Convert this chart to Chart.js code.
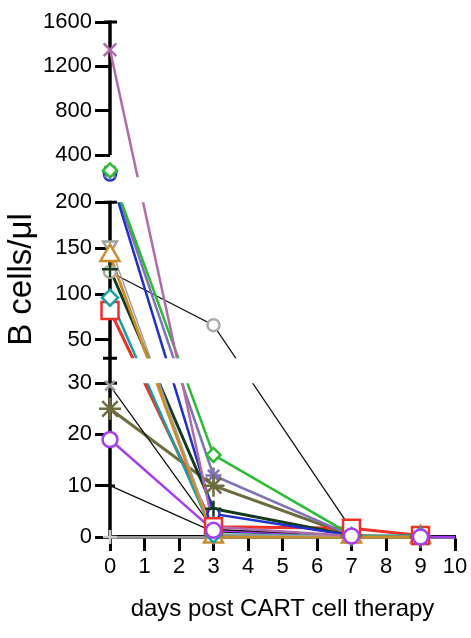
<!DOCTYPE html>
<html>
<head>
<meta charset="utf-8">
<script src="https://cdn.jsdelivr.net/npm/chart.js@4.4.1/dist/chart.umd.min.js"></script>
<style>
  html, body { margin: 0; padding: 0; background: #fff; }
  #wrap { width: 471px; height: 638px; }
</style>
</head>
<body>
<div id="wrap"><canvas id="bcellChart"></canvas></div>
<script>
// days after CART infusion
const days = [0, 3, 7, 9, 10];

// B cells / ul per patient (null = not measured)
const mauveCross   = [1350, 2, 0.2, null, null];
const blueRing     = [225, 4.5, 0.3, null, null];
const greenDiamond = [262, 16, 0.4, null, null];
const lavenderStar = [250, 12, 0.3, null, null];
const grayTriangle = [153, 0.5, 0.2, null, null];
const orangeTri    = [142, 0, 0, 0, null];
const darkGreen    = [127, 5.5, 0.3, null, null];
const grayCircle   = [124, 66, 1.5, null, null];
const tealDiamond  = [96, 0.5, 0.2, 0.3, null];
const redSquare    = [82, 2, 1.7, 0.3, null];
const grayCross    = [29.5, 1.5, 0.2, null, null];
const oliveStar    = [25, 10, 0.3, 0, null];
const violetCircle = [19, 1.3, 0.2, 0, 0];
const blackDash    = [10, 1, 0.2, null, null];
const lightGray    = [0, 0, 0, null, null];

// broken y axis: segment limits and tick labels
const yBreaks = [0, 30, 200, 1600];
const yTickValues = [0, 10, 20, 30, 50, 100, 150, 200, 400, 800, 1200, 1600];
const xTickValues = [0, 1, 2, 3, 4, 5, 6, 7, 8, 9, 10];

const FONT = "'Liberation Sans', Arial, sans-serif";

// relative heights of the three segments and the gaps between them
const segWeights = [154, 156, 155.5];
const gapWeight = 25;
const totalWeight = segWeights.reduce((a, b) => a + b, 0) + gapWeight * (segWeights.length - 1);

const LinearBase = Chart.LinearScale || Chart.registry.getScale("linear");

class BrokenLinearScale extends LinearBase {
  segDecimals(i) {
    let start = 0;
    for (let k = 0; k < i; k++) start += segWeights[k] + gapWeight;
    return [start / totalWeight, (start + segWeights[i]) / totalWeight];
  }
  getDecimalForValue(v) {
    const last = yBreaks.length - 2;
    for (let i = 0; i <= last; i++) {
      if (v <= yBreaks[i + 1] || i === last) {
        const [d0, d1] = this.segDecimals(i);
        return d0 + ((v - yBreaks[i]) / (yBreaks[i + 1] - yBreaks[i])) * (d1 - d0);
      }
    }
  }
  getPixelForValue(v) {
    if (v === null || v === undefined || isNaN(v)) return NaN;
    return this.getPixelForDecimal(this.getDecimalForValue(v));
  }
  getValueForPixel(p) {
    const d = this.getDecimalForPixel(p);
    const last = yBreaks.length - 2;
    for (let i = 0; i <= last; i++) {
      const [d0, d1] = this.segDecimals(i);
      if (d <= d1 || i === last) {
        return yBreaks[i] + ((d - d0) / (d1 - d0)) * (yBreaks[i + 1] - yBreaks[i]);
      }
    }
  }
  segPixels(i) {
    const [d0, d1] = this.segDecimals(i);
    return [this.getPixelForDecimal(d0), this.getPixelForDecimal(d1)];
  }
}
BrokenLinearScale.id = "brokenLinear";
BrokenLinearScale.defaults = LinearBase.defaults;
Chart.register(BrokenLinearScale);

// z: marker stacking, lower is drawn on top
const series = [
  { values: mauveCross,   color: "#b16ca8", marker: "crossRot", r: 9, lw: 2.5, z: 9 },
  { values: blueRing,     color: "#2130c8", marker: "circle",   r: 6, lw: 2.5, z: 8 },
  { values: greenDiamond, color: "#2cbb35", marker: "rectRot",  r: 7, lw: 2.5, z: 5 },
  { values: lavenderStar, color: "#7f72b6", marker: "star",     r: 8, lw: 2.5, z: 6 },
  { values: grayTriangle, color: "#a0a0a0", marker: "triangle", r: 8, lw: 1.5, z: 14, rot: 180 },
  { values: orangeTri,    color: "#c98d2a", marker: "triangle", r: 11, lw: 3, z: 3 },
  { values: darkGreen,    color: "#14391b", marker: "cross",    r: 8, lw: 3, z: 7 },
  { values: grayCircle,   color: "#aaaaaa", line: "#111111", marker: "circle", r: 6, lw: 1.3, z: 10 },
  { values: tealDiamond,  color: "#1a9ea3", marker: "rectRot",  r: 8, lw: 2.5, z: 1 },
  { values: redSquare,    color: "#ea3229", marker: "rect",     r: 12, lw: 3, z: 2 },
  { values: grayCross,    color: "#9a9a9a", line: "#111111", marker: "crossRot", r: 7, lw: 1.3, z: 12 },
  { values: oliveStar,    color: "#6d6c40", marker: "star",     r: 11, lw: 3, z: 4 },
  { values: violetCircle, color: "#a43ef0", marker: "circle",   r: 7.5, lw: 2.5, z: 0 },
  { values: blackDash,    color: "#111111", marker: "dash",     r: 5, lw: 1.3, z: 11 },
  { values: lightGray,    color: "#cccccc", marker: "cross",    r: 7, lw: 1.5, z: 13 },
];

function toPoints(values) {
  return days
    .map((d, i) => ({ x: d, y: values[i] }))
    .filter((p) => p.y !== null);
}

const datasets = [];
series.forEach((s) => {
  // line part, clipped to the three axis segments
  datasets.push({
    data: toPoints(s.values),
    showLine: true,
    borderColor: s.line || s.color,
    borderWidth: s.lw,
    pointRadius: 0,
    fill: false,
    clip: false,
    order: 2,
    lineOnly: true,
  });
  // markers, drawn on top and never clipped
  datasets.push({
    data: toPoints(s.values),
    showLine: false,
    pointStyle: s.marker,
    pointRotation: s.rot || 0,
    pointRadius: (ctx) => (ctx.raw && ctx.raw.x === 10 ? 0 : s.r),
    pointBorderColor: s.color,
    pointBackgroundColor: "#ffffff",
    pointBorderWidth: 2.5,
    clip: false,
    order: 1 + s.z / 100,
  });
});

// draws the broken y axis and hides lines inside the gaps
const brokenAxisPlugin = {
  id: "brokenAxis",
  beforeDatasetsDraw(chart) {
    const y = chart.scales.y;
    const ctx = chart.ctx;
    const x0 = chart.chartArea.left;
    const axisFrom = [0, 30, 400];
    ctx.save();
    ctx.strokeStyle = "#000";
    ctx.lineCap = "butt";
    for (let i = 0; i < segWeights.length; i++) {
      const [bottom, top] = y.segPixels(i);
      const start = i === 0 ? bottom + 1.75 : y.getPixelForValue(axisFrom[i]);
      ctx.lineWidth = 3.5;
      ctx.beginPath();
      ctx.moveTo(x0, start);
      ctx.lineTo(x0, top - 1.5);
      ctx.stroke();
      ctx.lineWidth = 3;
      ctx.beginPath();
      ctx.moveTo(x0 - 6, top);
      ctx.lineTo(x0 + 7, top);
      if (i > 0 && axisFrom[i] === yBreaks[i]) {
        ctx.moveTo(x0 - 7, bottom);
        ctx.lineTo(x0 + 7, bottom);
      }
      ctx.stroke();
    }
    ctx.restore();
  },
  beforeDatasetDraw(chart, args) {
    const ds = chart.data.datasets[args.index];
    if (!ds.lineOnly) return;
    const y = chart.scales.y;
    const area = chart.chartArea;
    const ctx = chart.ctx;
    ctx.save();
    ctx.beginPath();
    for (let i = 0; i < segWeights.length; i++) {
      let [bottom, top] = y.segPixels(i);
      if (i === 0) bottom += 6;
      if (i === segWeights.length - 1) top -= 6;
      ctx.rect(area.left - 12, top, area.right - area.left + 24, bottom - top);
    }
    ctx.clip();
  },
  afterDatasetDraw(chart, args) {
    const ds = chart.data.datasets[args.index];
    if (ds.lineOnly) chart.ctx.restore();
  },
};

const ctx = document.getElementById("bcellChart").getContext("2d");
new Chart(ctx, {
  type: "line",
  data: { datasets: datasets },
  plugins: [brokenAxisPlugin],
  options: {
    responsive: true,
    maintainAspectRatio: false,
    animation: false,
    layout: { padding: { top: 22, right: 16, left: 0, bottom: 0 } },
    plugins: { legend: { display: false }, tooltip: { enabled: false } },
    scales: {
      x: {
        type: "linear",
        min: 0,
        max: 10,
        afterBuildTicks: (s) => { s.ticks = xTickValues.map((v) => ({ value: v })); },
        afterFit: (s) => { s.height = 101; },
        ticks: { color: "#000", font: { family: FONT, size: 22 }, padding: 3, maxRotation: 0 },
        grid: { drawOnChartArea: false, drawTicks: true, tickLength: 14, tickWidth: 3, color: "#000" },
        border: { display: true, color: "#000", width: 3.5 },
        title: {
          display: true,
          text: "days post CART cell therapy",
          color: "#000",
          font: { family: FONT, size: 24 },
          padding: { top: 4, bottom: 14 },
        },
      },
      y: {
        type: "brokenLinear",
        min: 0,
        max: 1600,
        afterBuildTicks: (s) => { s.ticks = yTickValues.map((v) => ({ value: v })); },
        afterFit: (s) => { s.width = 110; },
        ticks: { color: "#000", font: { family: FONT, size: 22 }, padding: 3, callback: (v) => String(v) },
        grid: { drawOnChartArea: false, drawTicks: true, tickLength: 15, tickWidth: 3, color: "#000" },
        border: { display: false },
        title: {
          display: true,
          text: "B cells/μl",
          color: "#000",
          font: { family: FONT, size: 33 },
          padding: { top: 2, bottom: 0 },
        },
      },
    },
  },
});
</script>
</body>
</html>
